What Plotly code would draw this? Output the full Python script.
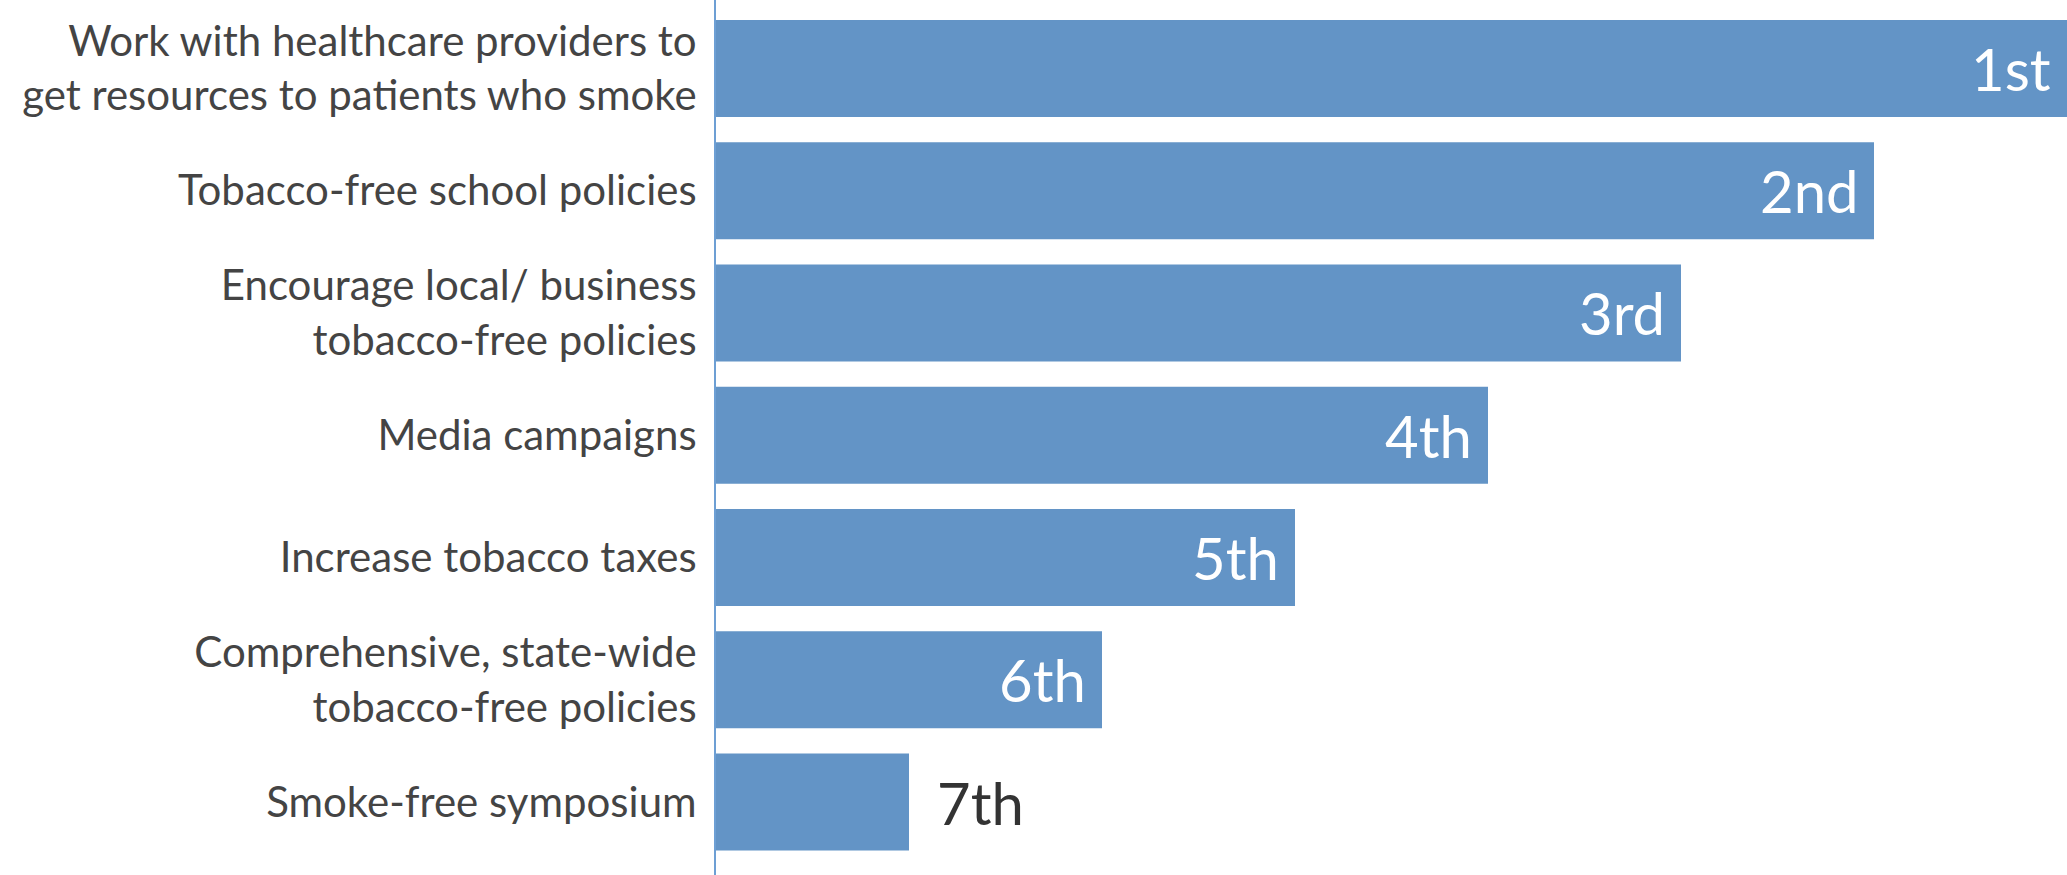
import plotly.graph_objects as go

categories = [
    "Work with healthcare providers to<br>get resources to patients who smoke",
    "Tobacco-free school policies",
    "Encourage local/ business<br>tobacco-free policies",
    "Media campaigns",
    "Increase tobacco taxes",
    "Comprehensive, state-wide<br>tobacco-free policies",
    "Smoke-free symposium",
]
scores = [7, 6, 5, 4, 3, 2, 1]
rank_labels = ["1st", "2nd", "3rd", "4th", "5th", "6th", "7th"]

BAR = "#6394c6"
FONT = "Lato"

fig = go.Figure()
fig.add_trace(go.Bar(
    x=scores, y=categories, orientation="h",
    marker=dict(color=BAR, line=dict(width=0)),
    hoverinfo="skip",
))

for s, c, t in zip(scores, categories, rank_labels):
    inside = s >= 2
    fig.add_annotation(
        x=s, y=c, text=t, showarrow=False,
        xanchor="right" if inside else "left",
        xshift=-14 if inside else 26,
        font=dict(family=FONT, size=58, color="white" if inside else "#333333"),
    )

fig.update_layout(
    width=2067, height=875,
    margin=dict(l=716, r=0, t=0, b=0),
    plot_bgcolor="white", paper_bgcolor="white",
    bargap=0.207,
    showlegend=False,
    font=dict(family=FONT, color="#404040"),
)
fig.update_xaxes(range=[0, 7], showgrid=False, zeroline=False, showticklabels=False, showline=False)
fig.update_yaxes(
    type="category", categoryorder="array", categoryarray=categories,
    range=[6.597, -0.560],
    showgrid=False, zeroline=False,
    showline=True, linecolor="#6d9fd4", linewidth=2,
    ticks="outside", ticklen=9, tickcolor="rgba(0,0,0,0)",
    tickfont=dict(family=FONT, size=42, color="#444444"),
)

fig.write_html("out.html")
